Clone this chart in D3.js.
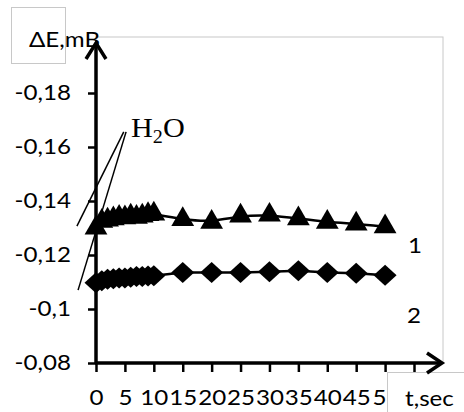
<!DOCTYPE html>
<html>
<head>
<meta charset="utf-8">
<script src="https://cdnjs.cloudflare.com/ajax/libs/d3/7.8.5/d3.min.js"></script>
<style>
  body { margin: 0; background: #fff; }
  svg text { font-family: Lato, "Liberation Sans", sans-serif; fill: #000; }
</style>
</head>
<body>
<div id="chart"></div>
<script>
// time, sec
var times = [0, 1, 2, 3, 4, 5, 6, 7, 8, 9, 10, 15, 20, 25, 30, 35, 40, 45, 50];
// curve 1 (triangles), mV
var series1 = [-0.130, -0.1325, -0.133, -0.1335, -0.134, -0.1338, -0.1345, -0.134, -0.1345, -0.135, -0.1352,
               -0.1332, -0.1322, -0.1345, -0.1348, -0.1335, -0.1322, -0.1315, -0.1305];
// curve 2 (diamonds), mV
var series2 = [-0.1097, -0.1105, -0.111, -0.1112, -0.1115, -0.1115, -0.1118, -0.112, -0.112, -0.1122, -0.1123,
               -0.1135, -0.1135, -0.1135, -0.1138, -0.1142, -0.1135, -0.1132, -0.1125];
var xTicks = [0, 5, 10, 15, 20, 25, 30, 35, 40, 45, 50, 55];
var yTicks = [-0.08, -0.1, -0.12, -0.14, -0.16, -0.18];
var yTickLabels = ['-0,08', '-0,1', '-0,12', '-0,14', '-0,16', '-0,18'];
// tangent lines drawn toward the H2O note (data units)
var tangentA = [[4.8, -0.1656], [-3.3, -0.1307]];
var tangentB = [[5.2, -0.1656], [-3.1, -0.1070]];

var width = 464, height = 412;
var stretch = 1.15; // the original text looks a bit wider than Lato
var svg = d3.select('#chart').append('svg').attr('width', width).attr('height', height);

var x = d3.scaleLinear().domain([0, 55]).range([96, 414]);
var y = d3.scaleLinear().domain([-0.08, -0.18]).range([363, 93]);

// plot area border
svg.append('rect')
    .attr('x', x(0)).attr('y', 37)
    .attr('width', 443 - x(0)).attr('height', y(-0.08) - 37)
    .attr('fill', 'none').attr('stroke', '#c8c8c8').attr('stroke-width', 1);

// axis title box
svg.append('rect').attr('x', 11.5).attr('y', 7.5).attr('width', 54).attr('height', 56)
    .attr('fill', 'none').attr('stroke', '#c8c8c8');

// y axis with ticks on the left
var yAxis = d3.axisLeft(y).tickValues(yTicks).tickSize(8).tickPadding(18)
    .tickFormat(function(d, i) { return yTickLabels[i]; });
var gy = svg.append('g').attr('transform', 'translate(' + x(0) + ',0)').call(yAxis);
gy.select('.domain').remove();
gy.selectAll('.tick line').attr('stroke', '#000').attr('stroke-width', 2.5);
gy.selectAll('.tick text').style('font-size', '21px')
    .attr('x', -25 / stretch).attr('transform', 'scale(' + stretch + ',1)');

// x axis with ticks below
var xAxis = d3.axisBottom(x).tickValues(xTicks).tickSize(9).tickPadding(18)
    .tickFormat(function(d) { return d; });
var gx = svg.append('g').attr('transform', 'translate(0,' + y(-0.08) + ')').call(xAxis);
gx.select('.domain').remove();
gx.selectAll('.tick line').attr('stroke', '#000').attr('stroke-width', 2.5);
gx.selectAll('.tick text').style('font-size', '21px')
    .attr('transform', 'scale(' + stretch + ',1)');
// labels hidden under the t,sec box are cut like in the original
gx.selectAll('.tick').filter(function(d) { return x(d) > 400; }).select('text').remove();
gx.selectAll('.tick').filter(function(d) { return x(d) > 370 && x(d) <= 400; }).select('text')
    .text('5').attr('x', -6 / stretch);

// t,sec box
svg.append('rect').attr('x', 387.5).attr('y', 372.5).attr('width', 90).attr('height', 50)
    .attr('fill', '#fff').attr('stroke', '#c8c8c8');

// axis lines with open arrow heads
svg.append('line').attr('x1', x(0)).attr('y1', y(-0.08) + 1).attr('x2', x(0)).attr('y2', 43)
    .attr('stroke', '#000').attr('stroke-width', 3.5);
svg.append('polyline').attr('points', [[x(0) - 10, 59], [x(0), 43], [x(0) + 10, 59]].join(' '))
    .attr('fill', 'none').attr('stroke', '#000').attr('stroke-width', 3.5);
svg.append('line').attr('x1', x(0) - 1).attr('y1', y(-0.08)).attr('x2', 442).attr('y2', y(-0.08))
    .attr('stroke', '#000').attr('stroke-width', 3.5);
svg.append('polyline').attr('points', [[427, y(-0.08) - 10], [442, y(-0.08)], [427, y(-0.08) + 10]].join(' '))
    .attr('fill', 'none').attr('stroke', '#000').attr('stroke-width', 3.5);

// tangent lines
[tangentA, tangentB].forEach(function(t) {
    svg.append('line')
        .attr('x1', x(t[0][0])).attr('y1', y(t[0][1]))
        .attr('x2', x(t[1][0])).attr('y2', y(t[1][1]))
        .attr('stroke', '#000').attr('stroke-width', 1.5);
});

var data1 = times.map(function(t, i) { return {t: t, v: series1[i]}; });
var data2 = times.map(function(t, i) { return {t: t, v: series2[i]}; });

var line1 = d3.line().x(function(d) { return x(d.t); }).y(function(d) { return y(d.v); })
    .curve(d3.curveBasis);
var line2 = d3.line().x(function(d) { return x(d.t); }).y(function(d) { return y(d.v); });

svg.append('path').datum(data1).attr('d', line1)
    .attr('fill', 'none').attr('stroke', '#000').attr('stroke-width', 2.5);
svg.append('path').datum(data2).attr('d', line2)
    .attr('fill', 'none').attr('stroke', '#000').attr('stroke-width', 2.5);

var tri = d3.symbol().type(d3.symbolTriangle).size(225);
svg.append('g').selectAll('path').data(data1).enter().append('path')
    .attr('d', tri)
    .attr('transform', function(d) { return 'translate(' + x(d.t) + ',' + y(d.v) + ')'; })
    .attr('fill', '#000');

var diamond = 'M0,-10.5L11.5,0L0,10.5L-11.5,0Z';
svg.append('g').selectAll('path').data(data2).enter().append('path')
    .attr('d', diamond)
    .attr('transform', function(d) { return 'translate(' + x(d.t) + ',' + y(d.v) + ')'; })
    .attr('fill', '#000');

// texts
function wideText(px, py, str) {
    return svg.append('text')
        .attr('transform', 'translate(' + px + ',' + py + ') scale(' + stretch + ',1)')
        .style('font-size', '21px').text(str);
}
wideText(29, 47, 'ΔE,mB');
wideText(405, 406, 't,sec');
wideText(408, 253, '1');
wideText(407, 323, '2');

var h2o = svg.append('text')
    .attr('transform', 'translate(131,137) scale(1.12,1)')
    .style('font-family', '"Liberation Serif", serif').style('font-size', '27px');
h2o.append('tspan').text('H');
h2o.append('tspan').attr('dy', 6).style('font-size', '18px').text('2');
h2o.append('tspan').attr('dy', -6).text('O');
</script>
</body>
</html>
